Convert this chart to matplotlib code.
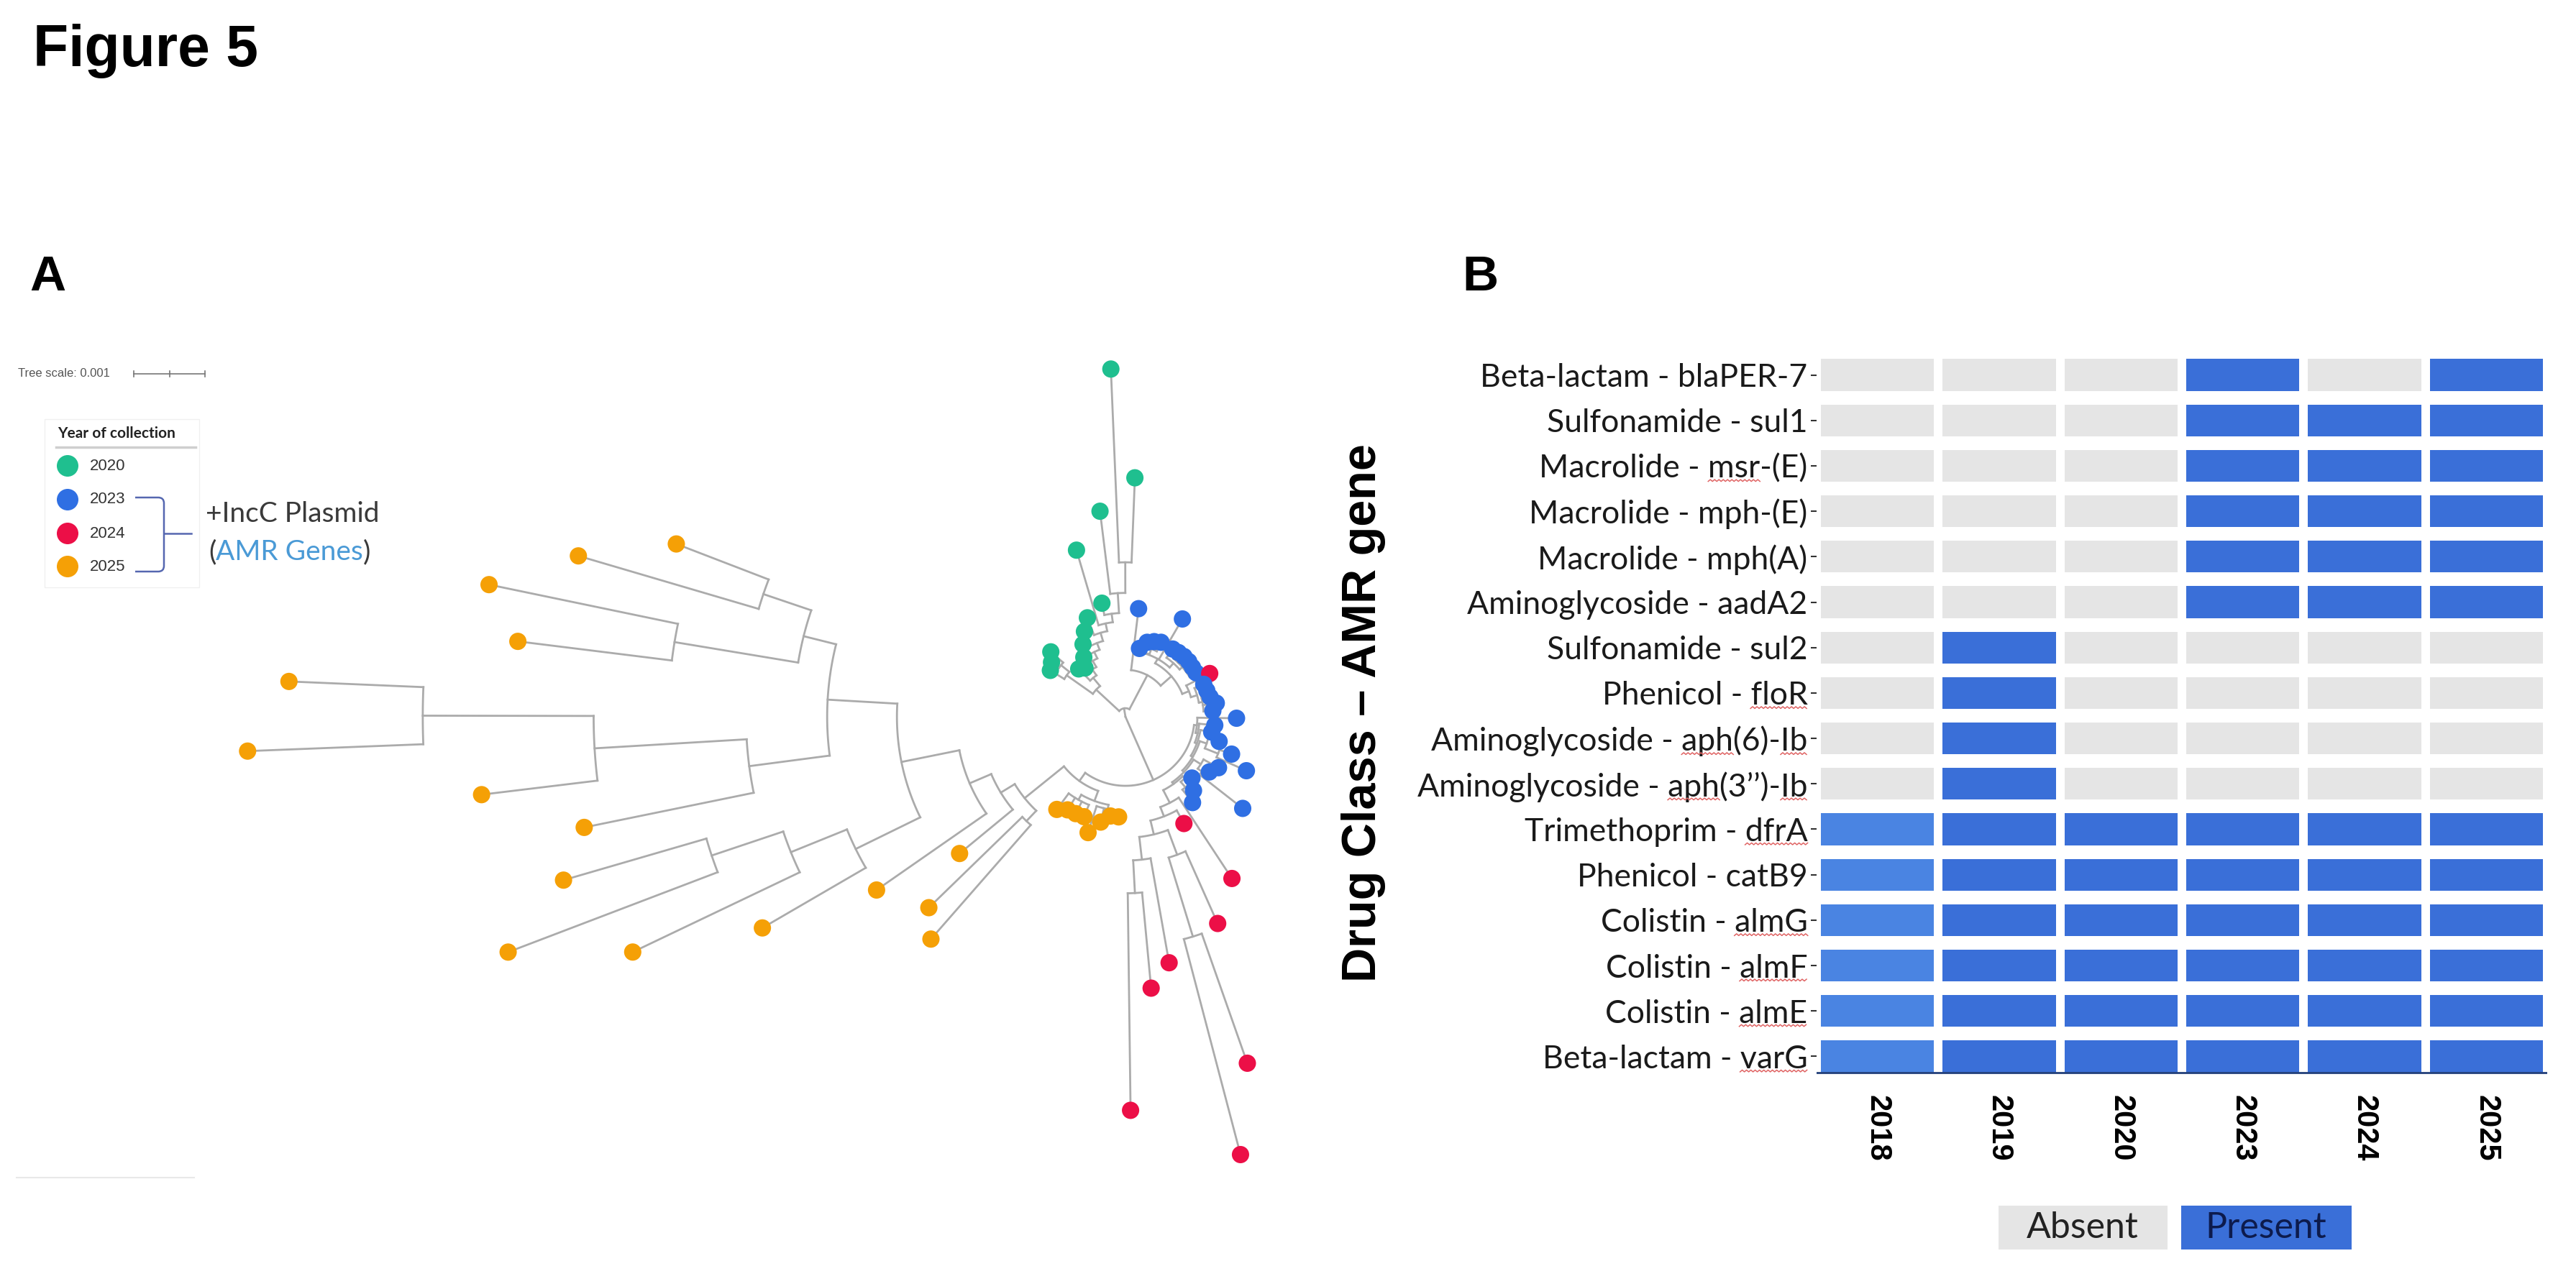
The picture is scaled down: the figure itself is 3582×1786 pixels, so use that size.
import numpy as np
import matplotlib
matplotlib.use("Agg")
import matplotlib.pyplot as plt
from matplotlib.lines import Line2D
from matplotlib.patches import Rectangle, PathPatch
from matplotlib.path import Path
from matplotlib.transforms import IdentityTransform

plt.rcParams["font.family"] = ["Liberation Sans", "DejaVu Sans"]

W, H = 3582, 1786

# -------------------------
# Panel A data: circular tree (tips listed clockwise)
# -------------------------
years = ["2020", "2023", "2024", "2025"]
year_colors = ["#1FBF8F", "#2F6FE3", "#EC0F47", "#F5A006"]

tip_year = (["2020"] * 14 + ["2023"] * 12 + ["2024"] + ["2023"] * 17
            + ["2024"] * 8 + ["2025"] * 24)

# root-to-tip distance, units of 0.001 subs/site
tip_dist = [
    1.24, 1.29, 1.39, 0.94, 0.89, 1.02, 1.18, 1.33, 1.49, 2.44, 1.63, 2.91, 4.89, 3.36,
    1.53, 0.98, 1.09, 1.13, 1.16, 1.59, 1.16, 1.17, 1.18, 1.18, 1.17, 1.17,
    1.33,
    1.19, 1.20, 1.22, 1.29, 1.23,
    1.56, 1.26, 1.23, 1.36, 1.58, 1.86, 1.49, 1.41, 2.09, 1.27, 1.41, 1.53,
    2.72, 1.71, 3.18, 5.16, 6.36, 3.51, 3.83, 5.53,
    1.41, 1.41, 1.52, 1.71, 1.52, 1.53, 1.54, 1.62,
    4.15, 3.85, 3.02, 4.26, 5.90, 7.67, 9.28, 8.22, 7.76, 9.11, 12.34, 11.76, 8.60, 9.13, 8.01, 6.76,
]

# internal nodes: first tip, last tip, distance from root
node_lo = [0, 0, 0, 0, 1, 3, 4, 5, 6, 7, 8, 9, 10, 11, 12,
           14, 15, 15, 15, 16, 20, 21, 26, 27, 28,
           32, 32, 33, 34, 35, 35, 36, 38, 38, 39, 41, 41, 42, 44, 45, 46, 46, 47, 49, 50,
           52, 52, 52, 56, 60, 60, 62, 63, 64, 64, 65, 66, 68, 68, 69, 70, 72, 72, 74]
node_hi = [75, 31, 13, 2, 2, 13, 13, 13, 13, 13, 13, 13, 13, 13, 13,
           31, 31, 25, 18, 18, 25, 25, 31, 31, 31,
           75, 51, 51, 51, 51, 37, 37, 51, 40, 40, 51, 43, 43, 51, 51, 51, 48, 48, 51, 51,
           75, 59, 55, 59, 75, 61, 75, 75, 75, 67, 67, 67, 75, 71, 71, 71, 75, 73, 75]
node_dist = [0.00, 0.12, 0.56, 1.01, 1.16, 0.71, 0.81, 0.91, 1.01, 1.11, 1.23, 1.34, 1.46, 1.74, 2.17,
             0.66, 0.86, 0.93, 0.94, 1.02, 1.01, 1.06, 0.96, 1.05, 1.10,
             0.97, 1.01, 1.04, 1.07, 1.10, 1.20, 1.40, 1.13, 1.25, 1.32, 1.16, 1.20, 1.30,
             1.36, 1.50, 1.70, 2.07, 3.23, 2.02, 2.48,
             1.11, 1.26, 1.32, 1.34, 1.82, 2.02, 2.05, 2.38, 3.21, 4.22, 5.07, 6.13,
             4.19, 5.33, 7.47, 9.87, 4.66, 6.42, 5.37]

# -------------------------
# Panel B data: AMR gene presence
# -------------------------
gene_labels = [
    "Beta-lactam - blaPER-7", "Sulfonamide - sul1", "Macrolide - msr-(E)",
    "Macrolide - mph-(E)", "Macrolide - mph(A)", "Aminoglycoside - aadA2",
    "Sulfonamide - sul2", "Phenicol - floR", "Aminoglycoside - aph(6)-Ib",
    "Aminoglycoside - aph(3\u2019\u2019)-Ib", "Trimethoprim - dfrA", "Phenicol - catB9",
    "Colistin - almG", "Colistin - almF", "Colistin - almE", "Beta-lactam - varG",
]
sample_years = ["2018", "2019", "2020", "2023", "2024", "2025"]
presence = [
    [0, 0, 0, 1, 0, 1],
    [0, 0, 0, 1, 1, 1],
    [0, 0, 0, 1, 1, 1],
    [0, 0, 0, 1, 1, 1],
    [0, 0, 0, 1, 1, 1],
    [0, 0, 0, 1, 1, 1],
    [0, 1, 0, 0, 0, 0],
    [0, 1, 0, 0, 0, 0],
    [0, 1, 0, 0, 0, 0],
    [0, 1, 0, 0, 0, 0],
    [1, 1, 1, 1, 1, 1],
    [1, 1, 1, 1, 1, 1],
    [1, 1, 1, 1, 1, 1],
    [1, 1, 1, 1, 1, 1],
    [1, 1, 1, 1, 1, 1],
    [1, 1, 1, 1, 1, 1],
]
# words flagged by the spell checker in the original slide
squiggle_words = [(2, "msr"), (7, "floR"), (8, "aph"), (8, "Ib"), (9, "aph"), (9, "Ib"),
                  (10, "dfrA"), (12, "almG"), (13, "almF"), (14, "almE"), (15, "varG")]

# -------------------------
# Layout / style
# -------------------------
CX, CY = 1565, 997
ARC_START, ARC_STEP = -148.3, 4.658
PX_PER_UNIT = 99
BRANCH = "#ABABAB"
ABSENT = "#E5E5E5"
PRESENT = "#3A6FD8"
PRESENT_2018 = "#4A84E2"
SOFT = ["Lato", "DejaVu Sans"]

fig = plt.figure(figsize=(W / 100, H / 100), dpi=100)
ax = fig.add_axes([0, 0, 1, 1])
ax.set_xlim(0, W)
ax.set_ylim(H, 0)
ax.axis("off")

# -------------------------
# Tree layout
# -------------------------
n_tips = len(tip_dist)
tip_angle = ARC_START + ARC_STEP * np.arange(n_tips)
spans = list(zip(node_lo, node_hi))


def parent_of(lo, hi, self_k=None):
    best, best_size = None, None
    for k, (a, b) in enumerate(spans):
        if k == self_k or (a, b) == (lo, hi):
            continue
        if a <= lo and hi <= b and (best is None or b - a < best_size):
            best, best_size = k, b - a
    return best


children = {k: [] for k in range(len(spans))}
for i in range(n_tips):
    children[parent_of(i, i)].append(("tip", i))
for k, (a, b) in enumerate(spans):
    p = parent_of(a, b, k)
    if p is not None:
        children[p].append(("node", k))

node_angle = np.zeros(len(spans))


def ang(c):
    return tip_angle[c[1]] if c[0] == "tip" else node_angle[c[1]]


def dist(c):
    return tip_dist[c[1]] if c[0] == "tip" else node_dist[c[1]]


for k in sorted(range(len(spans)), key=lambda k: spans[k][1] - spans[k][0]):
    angs = [ang(c) for c in children[k]]
    node_angle[k] = (min(angs) + max(angs)) / 2


def polar(r, a):
    t = np.radians(a)
    return CX + r * np.cos(t), CY + r * np.sin(t)


for k in range(len(spans)):
    rk = node_dist[k] * PX_PER_UNIT
    angs = [ang(c) for c in children[k]]
    x, y = polar(rk, np.linspace(min(angs), max(angs), 80))
    ax.plot(x, y, color=BRANCH, lw=2.0, zorder=1)
    for c in children[k]:
        x, y = polar(np.array([rk, dist(c) * PX_PER_UNIT]), ang(c))
        ax.plot(x, y, color=BRANCH, lw=2.0, zorder=1)

tx, ty = polar(np.array(tip_dist) * PX_PER_UNIT, tip_angle)
tc = [year_colors[years.index(y)] for y in tip_year]
ax.scatter(tx, ty, s=300, c=tc, linewidths=0, zorder=3)

# -------------------------
# Panel A annotations
# -------------------------
ax.text(46, 92, "Figure 5", fontsize=58, fontweight="bold", va="baseline", ha="left")
ax.text(41, 404, "A", fontsize=50, fontweight="bold", va="baseline", ha="left")
ax.text(2033, 404, "B", fontsize=50, fontweight="bold", va="baseline", ha="left")

ax.text(25, 520, "Tree scale: 0.001", fontsize=12, color="#555555", va="center", ha="left")
ax.plot([186, 285], [520, 520], color="#777777", lw=1.2)
for xt in [186, 235.5, 285]:
    ax.plot([xt, xt], [516, 524], color="#777777", lw=1.2)

ax.add_patch(Rectangle((62, 583), 215, 234, fill=False, edgecolor="#F0F0F0", lw=1))
ax.text(80, 603, "Year of collection", fontsize=15, fontweight="bold", color="#222222",
        va="center", ha="left", family=SOFT)
ax.plot([78, 272], [622, 622], color="#CFCFCF", lw=2.5)
leg_y = [648, 695, 742, 788]
ax.scatter([94] * 4, leg_y, s=467, c=year_colors, linewidths=0, zorder=3)
for yy, lab in zip(leg_y, years):
    ax.text(125, yy, lab, fontsize=16, color="#333333", va="center", ha="left",
            family=["Liberation Sans Narrow", "Liberation Sans"])

bracket = Path([(188, 692), (220, 692), (228, 692), (228, 700), (228, 787),
                (228, 795), (220, 795), (188, 795)],
               [Path.MOVETO, Path.LINETO, Path.CURVE3, Path.CURVE3, Path.LINETO,
                Path.CURVE3, Path.CURVE3, Path.LINETO])
ax.add_patch(PathPatch(bracket, fill=False, edgecolor="#5567B0", lw=1.8))
ax.plot([228, 266], [742, 742], color="#5567B0", lw=1.8)

ax.text(286, 715, "+IncC Plasmid", fontsize=28, color="#3A3A3A", va="center", ha="left",
        family=SOFT)
t1 = ax.text(290, 768, "(", fontsize=28, color="#3A3A3A", va="center", ha="left",
             family=SOFT)
t2 = ax.annotate("AMR Genes", xy=(1, 0), xycoords=t1, va="bottom", ha="left",
                 fontsize=28, color="#4A9AD6", family=SOFT)
ax.annotate(")", xy=(1, 0), xycoords=t2, va="bottom", ha="left",
            fontsize=28, color="#3A3A3A", family=SOFT)

ax.plot([23, 270], [1638, 1638], color="#E8E8E8", lw=1.5)

# -------------------------
# Panel B: presence / absence grid
# -------------------------
ax.text(1896, 992, "Drug Class \u2013 AMR gene", fontsize=48, fontweight="bold",
        rotation=90, ha="center", va="center")

axb = fig.add_axes([2526 / W, 1 - 1501 / H, 1016 / W, 1011 / H])
axb.set_xlim(-0.5, len(sample_years) - 0.5)
axb.set_ylim(len(gene_labels) - 0.5, -0.5)
cell_w, cell_h = 0.93, 0.70
for i, row in enumerate(presence):
    colors = []
    for j, v in enumerate(row):
        if v == 0:
            colors.append(ABSENT)
        else:
            colors.append(PRESENT_2018 if j == 0 else PRESENT)
    axb.barh(i, cell_w, left=np.arange(len(row)) - cell_w / 2, height=cell_h,
             color=colors, linewidth=0)
axb.plot([-cell_w / 2 - 0.035, len(sample_years) - 1 + cell_w / 2 + 0.035],
         [len(gene_labels) - 1 + cell_h / 2] * 2, color="#23407A", lw=2)
axb.set_yticks(range(len(gene_labels)))
axb.set_yticklabels(gene_labels, fontsize=32, color="#1A1A1A", family=SOFT)
axb.set_xticks(range(len(sample_years)))
axb.set_xticklabels(sample_years, fontsize=30, fontweight="bold", rotation=270)
axb.tick_params(axis="y", length=6, width=1.5, color="#333333", pad=3)
axb.tick_params(axis="x", length=0, pad=16)
for s in axb.spines.values():
    s.set_visible(False)

# legend boxes under the grid
ax.add_patch(Rectangle((2779, 1677), 235, 61, color=ABSENT, lw=0))
ax.add_patch(Rectangle((3033, 1677), 237, 61, color=PRESENT, lw=0))
ax.text(2896, 1708, "Absent", fontsize=36, color="#222222", ha="center", va="center",
        family=SOFT)
ax.text(3151, 1708, "Present", fontsize=36, color="#0D1B4D", ha="center", va="center",
        family=SOFT)

# spell-check squiggles under gene names
fig.canvas.draw()
renderer = fig.canvas.get_renderer()
ticklabels = axb.get_yticklabels()
for row, word in squiggle_words:
    lab = ticklabels[row]
    text = lab.get_text()
    pos = text.find(word, text.index(" - "))
    fp = lab.get_fontproperties()
    ext = lab.get_window_extent(renderer)
    w_end = renderer.get_text_width_height_descent(text[:pos + len(word)], fp, ismath=False)[0]
    w_word = renderer.get_text_width_height_descent(word, fp, ismath=False)[0]
    x1 = ext.x0 + w_end
    x0 = x1 - w_word
    xs = np.arange(x0, x1 + 1, 3.0)
    ys = ext.y0 + 3 + 2.5 * (np.arange(len(xs)) % 2)
    fig.add_artist(Line2D(xs, ys, transform=IdentityTransform(), color="#E06464", lw=1.1))

fig.savefig("out.png", dpi=100)
